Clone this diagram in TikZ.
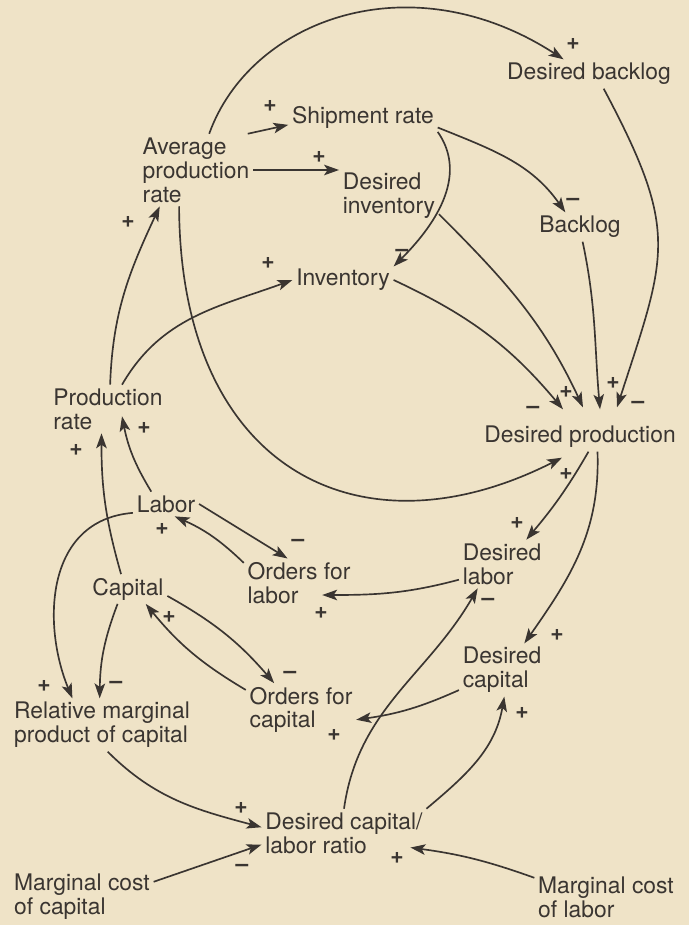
\documentclass[tikz,border=0pt]{standalone}
\usepackage{fontspec}
\setmainfont{TeX Gyre Heros}
\usetikzlibrary{arrows.meta,positioning}
\definecolor{paper}{HTML}{EFE3C7}
\definecolor{ink}{HTML}{3A3531}

\begin{document}
\begin{tikzpicture}[x=0.02cm,y=-0.02cm,
    var/.style={inner sep=2pt,align=left,text=ink,font=\fontsize{13}{13.6}\selectfont},
    link/.style={draw=ink,line width=0.95pt,-{Stealth[length=8.5pt,width=6pt,inset=2pt]}},
    sgn/.style={inner sep=0pt,text=ink,font=\fontsize{13}{13}\selectfont\bfseries}]
  \useasboundingbox[fill=paper] (0,0) rectangle (689,925);
  % variables
  \node[var] (dbl) at (589,74) {Desired backlog};
  \node[var] (ship) at (363,117) {Shipment rate};
  \node[var] (apr) at (196,170) {Average\\production\\rate};
  \node[var] (dinv) at (389,196) {Desired\\inventory};
  \node[var] (blog) at (580,227) {Backlog};
  \node[var] (inv) at (343,280) {Inventory};
  \node[var] (prate) at (108,409) {Production\\rate};
  \node[var] (dprod) at (580,437) {Desired production};
  \node[var] (labor) at (166,504) {Labor};
  \node[var] (dlab) at (502,564) {Desired\\labor};
  \node[var] (ofl) at (299,583) {Orders for\\labor};
  \node[var] (cap) at (128,589) {Capital};
  \node[var] (dcap) at (502,670) {Desired\\capital};
  \node[var] (ofc) at (301,710) {Orders for\\capital};
  \node[var] (rmp) at (102,725) {Relative marginal\\product of capital};
  \node[var] (dclr) at (344,833) {Desired capital/\\labor ratio};
  \node[var] (mcc) at (82,897) {Marginal cost\\of capital};
  \node[var] (mcl) at (606,897) {Marginal cost\\of labor};

  % links, upper loop
  \draw[link] (apr.70) .. controls (250,20) and (410,-40) .. (dbl.150);
  \draw[link] (apr.35) -- (ship.186);
  \draw[link] (apr.east) -- (apr.east -| dinv.west);
  \draw[link] (ship.-8) to[out=-22,in=125] (blog.135);
  \draw[link] (ship.south east) to[out=-55,in=45] (inv.15);
  \draw[link] (prate.60) to[out=60,in=200] (inv.west);
  \draw[link] (prate.85) to[out=88,in=245] (apr.225);
  \draw[link] (inv.east) to[out=-25,in=130] ([shift={(-17,-13)}]dprod.north);
  \draw[link] (dinv.-20) to[out=-45,in=115] ([shift={(3,-15)}]dprod.north);
  \draw[link] (blog.-80) to[out=-78,in=95] ([shift={(20,-13)}]dprod.north);
  \draw[link] (dbl.-45) to[out=-62,in=72,looseness=1.3] ([shift={(37,-15)}]dprod.north);
  \draw[link] (apr.245) .. controls (180,470) and (360,560) .. ([shift={(-18,6)}]dprod.south);

  % links, labor and capital
  \draw[link] (dprod.-60) to[out=-120,in=50] (dlab.45);
  \draw[link] (dprod.-40) to[out=-88,in=55] (dcap.50);
  \draw[link] (dlab.200) to[out=195,in=0] ([shift={(-32,12)}]ofl.east);
  \draw[link] (labor.east) -- (ofl.115);
  \draw[link] (ofl.160) to[bend right=10] (labor.-55);
  \draw[link] (labor.140) to[bend left=10] ([shift={(14,-17)}]prate.south);
  \draw[link] (cap.115) to[bend left=8] (prate.-105);
  \draw[link] (labor.195) .. controls (45,520) and (42,625) .. (rmp.138);
  \draw[link] (cap.-125) to[bend right=10] (rmp.95);
  \draw[link] (ofc.160) to[bend left=10] (cap.-40);
  \draw[link] (cap.-10) to[bend left=10] (ofc.135);
  \draw[link] (dcap.205) to[bend left=8] (ofc.-10);
  \draw[link] (rmp.-78) to[out=-45,in=165] (dclr.176);
  \draw[link] (mcc.12) -- (dclr.188);
  \draw[link] (mcl.165) to[bend right=6] ([shift={(-16,0)}]dclr.-10);
  \draw[link] (dclr.north) to[out=82,in=240] (dlab.-135);
  \draw[link] (dclr.north east) to[out=40,in=-100] (dcap.-85);

  % polarities
  \foreach \x/\y/\s [count=\k] in {573/44/+, 270/106/+, 319/157/+, 573/202/--, 402/253/--,
      268/263/+, 128/222/+, 533/410/--, 566/392/+, 613/383/+, 638/405/--, 566/474/+,
      517/523/+, 557/635/+, 321/613/+, 298/543/--, 162/529/+, 144/428/+, 76/450/+,
      44/686/+, 116/685/--, 169/617/+, 290/675/--, 334/735/+, 241/808/+, 242/868/--,
      397/858/+, 488/602/--, 522/713/+}
    \node[sgn] (sg\k) at (\x,\y) {\s};
\end{tikzpicture}
\end{document}
